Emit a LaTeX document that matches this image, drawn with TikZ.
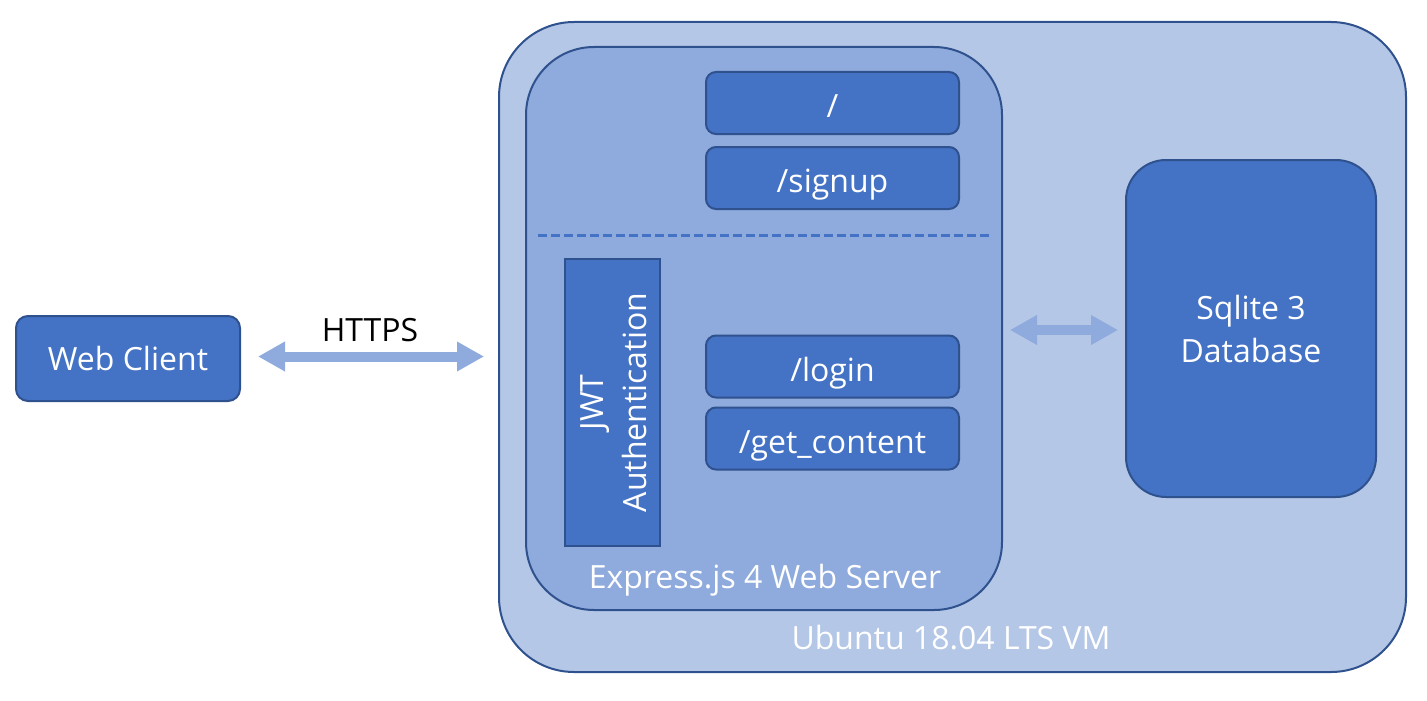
\documentclass[tikz,border=0pt]{standalone}
\usepackage{fontspec}
\setmainfont{Open Sans}
\usetikzlibrary{arrows.meta,calc}
\definecolor{boxblue}{HTML}{4472C4}
\definecolor{edgeblue}{HTML}{2F528F}
\definecolor{vmblue}{HTML}{B4C7E7}
\definecolor{srvblue}{HTML}{8FAADC}
\begin{document}
\begin{tikzpicture}[x=1pt,y=-1pt,
  every node/.style={inner sep=0pt, outer sep=0pt, font=\fontsize{32}{43}\selectfont},
  bluebox/.style={draw=edgeblue, fill=boxblue, line width=2pt, text=white, align=center},
  routebox/.style={bluebox, rounded corners=10pt, minimum width=253pt, minimum height=62pt, text height=32pt, text depth=3pt},
  harrow/.style={draw=srvblue, line width=10pt, {Triangle[length=27pt,width=28pt]}-{Triangle[length=27pt,width=28pt]}},
  wlabel/.style={text=white}
]
\useasboundingbox (0,0) rectangle (1427,701);
% VM container
\node[draw=edgeblue, fill=vmblue, line width=2pt, rounded corners=75pt, minimum width=907pt, minimum height=650pt] (vm) at (952.5,347) {};
\node[wlabel, anchor=base] (vmlabel) at (951,649) {Ubuntu 18.04 LTS VM};
% Express server
\node[draw=edgeblue, fill=srvblue, line width=2pt, rounded corners=68pt, minimum width=476pt, minimum height=563pt] (srv) at (764,328.5) {};
\node[wlabel, anchor=base] (srvlabel) at (765,588) {Express.js 4 Web Server};
% routes
\node[routebox] (root) at (832.5,103) {/};
\node[routebox] (signup) at (832.5,178) {/signup};
\node[routebox] (login) at (832.5,366.5) {/login};
\node[routebox] (getc) at (832.5,438.5) {/get\_content};
\coordinate (dl) at (538,235);
\coordinate (dr) at (990,235);
\draw[boxblue, line width=3pt, dash pattern=on 9pt off 4pt] (dl) -- (dr);
% JWT
\node[bluebox, minimum width=95pt, minimum height=287pt] (jwt) at (612.5,402.5) {};
\node[wlabel, rotate=90, align=center] (jwtlabel) at (614,402.5) {JWT\\Authentication};
% Sqlite
\node[bluebox, rounded corners=40pt, minimum width=250pt, minimum height=337pt] (db) at (1251,328.5) {Sqlite 3\\Database};
% Web client
\node[bluebox, rounded corners=12pt, minimum width=224pt, minimum height=85pt] (wc) at (128,358.5) {Web Client};
% arrows
\draw[harrow] ($(wc.east)+(18,-2)$) -- ($(vm.west |- wc.east)+(-15,-2)$);
\node[anchor=base] (https) at (370,341) {HTTPS};
\draw[harrow] ($(srv.east |- db.center)+(8,1.5)$) -- ($(db.west)+(-8,1.5)$);
\end{tikzpicture}
\end{document}
